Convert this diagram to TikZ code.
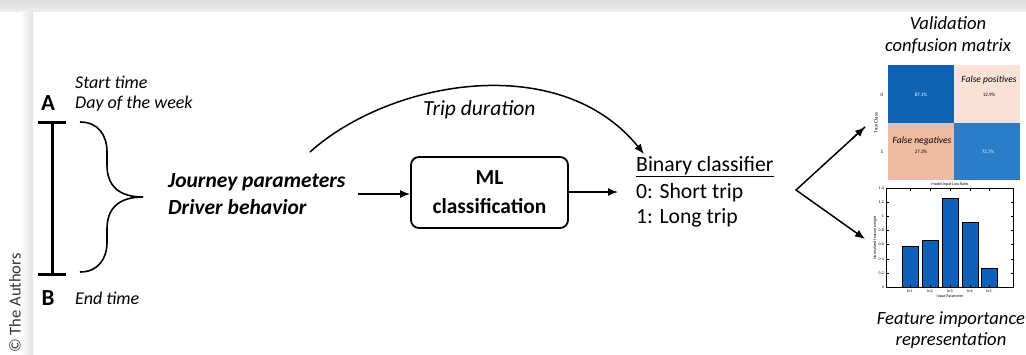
\documentclass[tikz,border=0pt]{standalone}
\usepackage{fontspec}
\setmainfont{Carlito}
\usetikzlibrary{arrows.meta,calc}
\definecolor{cmdark}{RGB}{18,98,180}
\definecolor{cmmid}{RGB}{42,126,200}
\definecolor{cmpale}{RGB}{250,226,214}
\definecolor{cmpeach}{RGB}{239,186,162}
\definecolor{barblue}{RGB}{14,96,184}
\begin{document}
\begin{tikzpicture}[x=1pt,y=-1pt,
  txt/.style={inner sep=0pt,anchor=west},
  lbl/.style={txt,font=\fontsize{18}{21}\selectfont\itshape},
  big/.style={txt,font=\fontsize{21.5}{25}\selectfont\bfseries\itshape},
  letter/.style={inner sep=0pt,font=\fontsize{23}{26}\selectfont\bfseries},
  plain/.style={txt,font=\fontsize{21.7}{25}\selectfont},
  captxt/.style={inner sep=0pt,font=\fontsize{18.6}{21}\selectfont\itshape},
  arr/.style={-{Latex[length=10pt,width=8pt]},line width=1.5pt},
  mlbox/.style={draw,line width=1.8pt,rounded corners=8pt,minimum width=157pt,
    minimum height=71pt,align=center,font=\fontsize{21.4}{29}\selectfont\bfseries},
  tiny/.style={inner sep=0pt,font=\fontsize{4}{5}\selectfont},
  cmtxt/.style={inner sep=0pt,font=\fontsize{9.5}{11}\selectfont\itshape},
  cmnum/.style={inner sep=0pt,font=\fontsize{5}{6}\selectfont}]
\useasboundingbox (0,0) rectangle (1026,354);

% page frame: grey top band and left margin shadow
\shade[top color=gray!28,bottom color=gray!14] (0,0) rectangle (1026,11);
\shade[left color=white,right color=gray!22] (20,11) rectangle (33,354);
\node[rotate=90,inner sep=0pt,font=\fontsize{16.5}{18}\selectfont,text=black!80] (copy) at (15,303) {\textcopyright\ The Authors};

% journey interval A--B
\node[letter] (A) at (48,103) {A};
\node[letter] (B) at (48,298) {B};
\coordinate (barT) at (52,122);
\coordinate (barB) at (52,274);
\draw[line width=3pt] (barT) -- (barB);
\draw[line width=3pt] (38,122) -- (66,122);
\draw[line width=3pt] (38,274) -- (66,274);
\node[lbl] (start) at (75,82) {Start time};
\node[lbl] (day) at (75,104) {Day of the week};
\node[lbl] (end) at (75,298) {End time};

% curly brace gathering the inputs
\coordinate (tip) at (143,197);
\draw[line width=1.6pt] (80,122) .. controls (98,122) and (107,135) .. (107,152)
  -- (107,165) .. controls (107,185) and (118,197) .. (tip)
  .. controls (118,197) and (107,209) .. (107,229)
  -- (107,242) .. controls (107,259) and (98,272) .. (80,272);

\node[big] (jp) at (168,182) {Journey parameters};
\node[big] (db) at (168,207) {Driver behavior};

% classifier
\node[mlbox] (ml) at (489.5,192.5) {ML\\classification};
\coordinate (inS) at (358,194);
\draw[arr] (inS) -- (ml.west |- inS);
\coordinate (outE) at (618,192);
\draw[arr] (ml.east |- outE) -- (outE);

\node[plain] (bc) at (636,167) {\underline{Binary classifier}};
\node[plain] (c0) at (636,193) {0: Short trip};
\node[plain] (c1) at (636,218) {1: Long trip};

% trip duration bypass
\coordinate (tdS) at (310,152);
\coordinate (tdE) at (644,154);
\draw[arr] (tdS) .. controls (390,80) and (560,50) .. (tdE);
\node[lbl,font=\fontsize{21.5}{24}\selectfont\itshape] (td) at (423,110) {Trip duration};

% fork to the evaluation plots
\coordinate (fork) at (796,190);
\coordinate (upT) at (865,127);
\coordinate (dnT) at (865,239);
\draw[arr,line join=miter] (upT) -- (fork) -- (dnT);
\draw[arr] ($(fork)!0.8!(upT)$) -- (upT);

% confusion matrix
\node[captxt] (val) at (948,23) {Validation};
\node[captxt] (conf) at (948,46) {confusion matrix};
\fill[cmdark] (888,65) rectangle (954,123);
\fill[cmpale] (954,65) rectangle (1020,123);
\fill[cmpeach] (888,123) rectangle (954,180);
\fill[cmmid] (954,123) rectangle (1020,180);
\node[cmtxt] (fp) at (989,80) {False positives};
\node[cmnum] (n01) at (989,95) {12.9\%};
\node[cmnum,text=white] (n00) at (921,95) {87.1\%};
\node[cmtxt] (fn) at (922,141) {False negatives};
\node[cmnum] (n10) at (921,152) {27.3\%};
\node[cmnum,text=white] (n11) at (988,152) {72.7\%};
\node[cmnum] (t0) at (882,95) {0};
\node[cmnum] (t1) at (882,152) {1};
\node[cmnum,rotate=90] (tc) at (876,123) {True Class};

% feature importance bar chart
\draw[line width=0.7pt] (886,188) rectangle (1013,287);
\foreach \v/\lab in {0/0,1/0.2,2/0.4,3/0.6,4/0.8,5/1,6/1.2,7/1.4}{
  \pgfmathsetmacro{\yy}{287-\v*99/7}
  \draw[line width=0.4pt] (886,\yy) -- (888.5,\yy) (1013,\yy) -- (1010.5,\yy);
  \node[tiny,anchor=east] at (884,\yy) {\lab};
}
\foreach \x/\t [count=\i] in {910/246,930/240,950/198,970/222,989/268}{
  \fill[barblue,draw=black,line width=0.9pt] (\x-8,287) rectangle (\x+8,\t);
  \draw[line width=0.4pt] (\x,287) -- (\x,284.5) (\x,188) -- (\x,190.5);
  \node[tiny] at (\x,291) {In\i};
}
\node[tiny] (xl) at (950,297) {Input Parameter};
\node[tiny,rotate=90] (yl) at (875,238) {Normalized feature weight};
\node[tiny] (ttl) at (950,184) {Model Input Loss Ratio};

\node[captxt] (fi) at (951,320) {Feature importance};
\node[captxt] (rep) at (951,341) {representation};
\end{tikzpicture}
\end{document}
